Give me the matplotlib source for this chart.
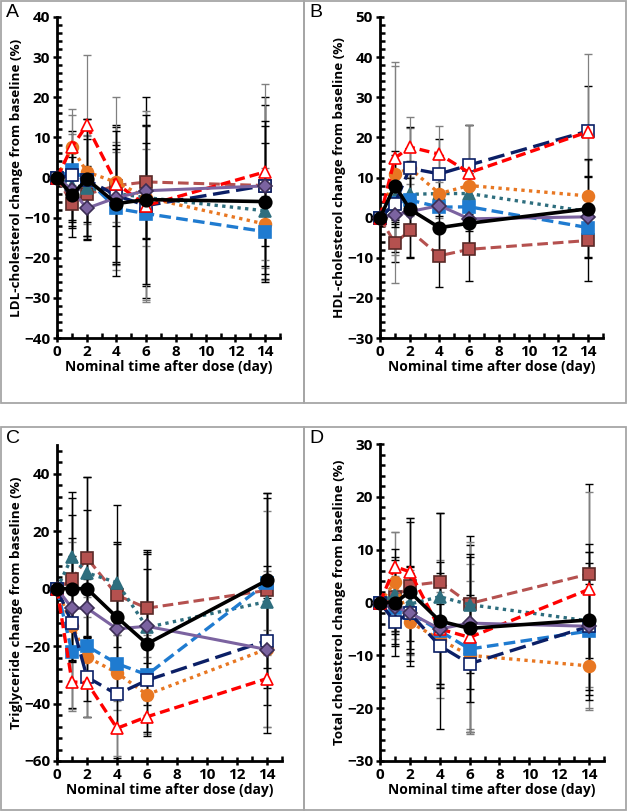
import matplotlib
matplotlib.use("Agg")
import matplotlib.pyplot as plt
from matplotlib.patches import Rectangle
from matplotlib.ticker import MultipleLocator

plt.rcParams['font.family'] = ['Open Sans', 'DejaVu Sans']

days = [0, 1, 2, 4, 6, 14]

# ---- Panel A: LDL-cholesterol (means at days 1,2,4,6,14; day 0 = 0) ----
A_black = [-4.4, -0.4, -6.5, -5.5, -6.0]
A_purple = [-3.0, -7.7, -5.0, -3.3, -2.1]
A_red = [7.6, 13.0, -1.5, -7.0, 1.4]
A_navy = [0.5, -0.5, -4.5, -7.0, -2.0]
A_blue = [1.8, -0.5, -7.7, -9.0, -13.5]
A_orange = [7.5, 1.4, -1.2, -5.0, -11.6]
A_teal = [-2.0, -2.5, -4.0, -5.0, -8.3]
A_brown = [-6.5, -4.2, -2.0, -1.1, -2.0]
A_sd = {
    'black': [10.4, 15, 18, 21, 20], 'purple': [8, 7, 12, 12, 15],
    'red': [9.5, 17.5, 21.5, 23.5, 22], 'navy': [11, 15, 17, 20, 22],
    'blue': [9, 11, 14, 22, 9], 'orange': [8, 9, 10, 12, 14],
    'teal': [10, 12, 17, 25, 17], 'brown': [6, 7, 10, 14, 20]}

# ---- Panel B: HDL-cholesterol ----
B_black = [8.0, 2.1, -2.5, -1.4, 2.2]
B_purple = [0.7, 1.5, 3.0, -0.3, 0.2]
B_red = [14.8, 17.6, 15.8, 11.2, 21.4]
B_navy = [3.5, 12.3, 10.9, 13.1, 21.6]
B_blue = [3.6, 4.4, 2.6, 2.7, -2.5]
B_orange = [10.8, 12.3, 6.0, 8.0, 5.4]
B_teal = [5.0, 5.8, 6.0, 6.0, 1.5]
B_brown = [-6.4, -3.2, -9.5, -7.9, -5.7]
B_sd = {
    'black': [8.5, 12, 7, 7, 12.3], 'purple': [3, 3, 2.5, 3, 10],
    'red': [24, 7.5, 7, 12, 19.3], 'navy': [12, 10.4, 8.6, 10, 11.2],
    'blue': [4, 4, 4, 4, 4], 'orange': [27, 10, 6, 15, 9],
    'teal': [6, 4, 4, 5, 5], 'brown': [4.7, 6.8, 7.9, 8, 10]}

# ---- Panel C: Triglyceride ----
C_black = [0.0, 0.0, -10.0, -19.2, 2.9]
C_purple = [-6.8, -6.8, -14.0, -13.1, -21.2]
C_red = [-32.5, -32.7, -48.6, -44.6, -31.3]
C_navy = [-12.0, -30.8, -36.8, -31.9, -18.1]
C_blue = [-22.1, -20.0, -26.1, -30.0, 2.0]
C_orange = [-12.9, -23.8, -29.3, -36.9, -21.0]
C_teal = [11.0, 5.5, 2.1, -13.5, -4.5]
C_brown = [3.2, 10.7, -2.3, -6.8, -0.6]
C_sd = {
    'black': [25.5, 39, 39, 32, 30.5], 'purple': [18, 10, 15, 20, 29],
    'red': [10, 12, 9.5, 6, 17], 'navy': [29.5, 14, 22, 18, 15],
    'blue': [10, 10, 10, 14, 25], 'orange': [29, 21, 13, 13, 27],
    'teal': [22.8, 22, 14, 27, 36], 'brown': [28.5, 28, 18, 19, 34]}

# ---- Panel D: Total cholesterol ----
D_black = [0.0, 2.0, -3.5, -4.9, -3.3]
D_purple = [-0.8, -2.0, -5.0, -3.9, -4.5]
D_red = [6.8, 5.8, -5.0, -6.6, 2.5]
D_navy = [-3.7, -2.0, -8.2, -11.6, -4.5]
D_blue = [-1.0, -1.9, -5.4, -8.8, -5.4]
D_orange = [3.9, -3.7, -7.0, -10.0, -12.0]
D_teal = [1.6, -0.3, 1.1, -0.4, -3.5]
D_brown = [1.0, 3.2, 3.9, -0.2, 5.4]
D_sd = {
    'black': [10.2, 14, 20.5, 14, 14.3], 'purple': [7, 9, 10.5, 12.5, 14],
    'red': [6.5, 10.2, 13, 18, 18.5], 'navy': [4.5, 7.5, 8, 13, 12],
    'blue': [6, 8, 10, 16, 15], 'orange': [9.4, 6, 9, 14, 8],
    'teal': [7, 7, 6.5, 13, 7], 'brown': [7, 12, 13, 11, 17]}

panel_letters = ['A', 'B', 'C', 'D']
ylabels = ['LDL-cholesterol change from baseline (%)',
           'HDL-cholesterol change from baseline (%)',
           'Triglyceride change from baseline (%)',
           'Total cholesterol change from baseline (%)']
xlabel = 'Nominal time after dose (day)'

styles = {
    'brown': dict(color='#B5514F', ls=(0, (3.5, 1.6)), lw=2.2, marker='s', ms=8, mfc='#B5514F', mec='#5A2A28', z=3),
    'teal': dict(color='#2E6E7E', ls=(0, (1, 1.3)), lw=2.4, marker='^', ms=8.5, mfc='#2E6E7E', mec='#2E6E7E', z=3.1),
    'orange': dict(color='#E87722', ls=(0, (1, 1.3)), lw=2.4, marker='o', ms=8.5, mfc='#E87722', mec='#E87722', z=3.2),
    'blue': dict(color='#1F7BD0', ls=(0, (3.5, 1.6)), lw=2.4, marker='s', ms=8, mfc='#1F7BD0', mec='#1F7BD0', z=3.3),
    'navy': dict(color='#0B1F66', ls=(0, (5, 2)), lw=2.4, marker='s', ms=8, mfc='white', mec='#0B1F66', z=3.4),
    'red': dict(color='#FF0000', ls=(0, (3, 1.5)), lw=2.4, marker='^', ms=9, mfc='white', mec='#FF0000', z=3.5),
    'purple': dict(color='#7B63A0', ls='-', lw=2.2, marker='D', ms=7, mfc='#7B63A0', mec='#3C2E55', z=3.6),
    'black': dict(color='black', ls='-', lw=2.6, marker='o', ms=9, mfc='black', mec='black', z=4),
}
err_colors = {'black': 'black', 'purple': 'black', 'brown': 'black', 'navy': 'black',
              'red': '#808080', 'orange': '#808080', 'teal': 'black', 'blue': '#808080'}

panels = [
    dict(data={'black': A_black, 'purple': A_purple, 'red': A_red, 'navy': A_navy,
               'blue': A_blue, 'orange': A_orange, 'teal': A_teal, 'brown': A_brown},
         sd=A_sd, ylim=(-40, 40), major=10, minor=2),
    dict(data={'black': B_black, 'purple': B_purple, 'red': B_red, 'navy': B_navy,
               'blue': B_blue, 'orange': B_orange, 'teal': B_teal, 'brown': B_brown},
         sd=B_sd, ylim=(-30, 50), major=10, minor=2),
    dict(data={'black': C_black, 'purple': C_purple, 'red': C_red, 'navy': C_navy,
               'blue': C_blue, 'orange': C_orange, 'teal': C_teal, 'brown': C_brown},
         sd=C_sd, ylim=(-60, 50), major=20, minor=4),
    dict(data={'black': D_black, 'purple': D_purple, 'red': D_red, 'navy': D_navy,
               'blue': D_blue, 'orange': D_orange, 'teal': D_teal, 'brown': D_brown},
         sd=D_sd, ylim=(-30, 30), major=10, minor=2),
]

W, H = 627, 811
fig = plt.figure(figsize=(W / 100, H / 100), dpi=100)

# panel frames (pixels: left, top, right, bottom)
frames = [(1, 1, 304, 403), (304, 1, 626, 403), (1, 427, 304, 810), (304, 427, 626, 810)]
# axes rectangles (pixels: left, top, right, bottom)
axrects = [(57, 17, 280, 338), (380, 17, 603, 338), (57, 445, 282, 761), (380, 444, 604, 761)]

for i, p in enumerate(panels):
    l, t, r, b = frames[i]
    fig.patches.append(Rectangle((l / W, 1 - b / H), (r - l) / W, (b - t) / H,
                                 transform=fig.transFigure, fill=False,
                                 edgecolor='#A6A6A6', lw=1.3, zorder=0))
    fig.text((l + 5) / W, 1 - (t + 3) / H, panel_letters[i], fontsize=14,
             ha='left', va='top', family=['Liberation Sans', 'DejaVu Sans'])
    al, at, ar, ab = axrects[i]
    ax = fig.add_axes([al / W, 1 - ab / H, (ar - al) / W, (ab - at) / H])
    ax.set_xlim(0, 15)
    ax.set_ylim(*p['ylim'])
    for s in ['top', 'right']:
        ax.spines[s].set_visible(False)
    for s in ['left', 'bottom']:
        ax.spines[s].set_linewidth(2)
    ax.xaxis.set_minor_locator(MultipleLocator(1))
    ax.set_xticks([0, 2, 4, 6, 8, 10, 12, 14])
    ax.yaxis.set_minor_locator(MultipleLocator(p['minor']))
    yl = p['ylim']
    ticks = [v for v in range(yl[0], yl[1] + 1, p['major']) if not (i == 2 and v == 50)]
    ax.set_yticks(ticks)
    ax.tick_params(which='major', direction='inout', length=6, width=1.8, labelsize=11, pad=2)
    ax.tick_params(which='minor', direction='in', length=3.5, width=1.8)
    for lab in ax.get_xticklabels() + ax.get_yticklabels():
        lab.set_fontweight('bold')
    ax.set_xlabel(xlabel, fontsize=10, fontweight='bold', labelpad=1)
    ax.set_ylabel(ylabels[i], fontsize=9.7, fontweight='bold', labelpad=1)

    for name in ['brown', 'teal', 'orange', 'blue', 'navy', 'red', 'purple', 'black']:
        st = styles[name]
        y = [0.0] + list(p['data'][name])
        sd = [0.0] + list(p['sd'][name])
        ec = err_colors[name]
        ax.errorbar(days[1:], y[1:], yerr=sd[1:], fmt='none', ecolor=ec,
                    elinewidth=1.0 if ec == 'black' else 0.9, capsize=3,
                    capthick=1.0, zorder=2, clip_on=False)
        ax.plot(days, y, color=st['color'], ls=st['ls'], lw=st['lw'],
                marker=st['marker'], ms=st['ms'], mfc=st['mfc'], mec=st['mec'],
                mew=1.2, zorder=st['z'], clip_on=False)

fig.savefig('out.png', dpi=100)
